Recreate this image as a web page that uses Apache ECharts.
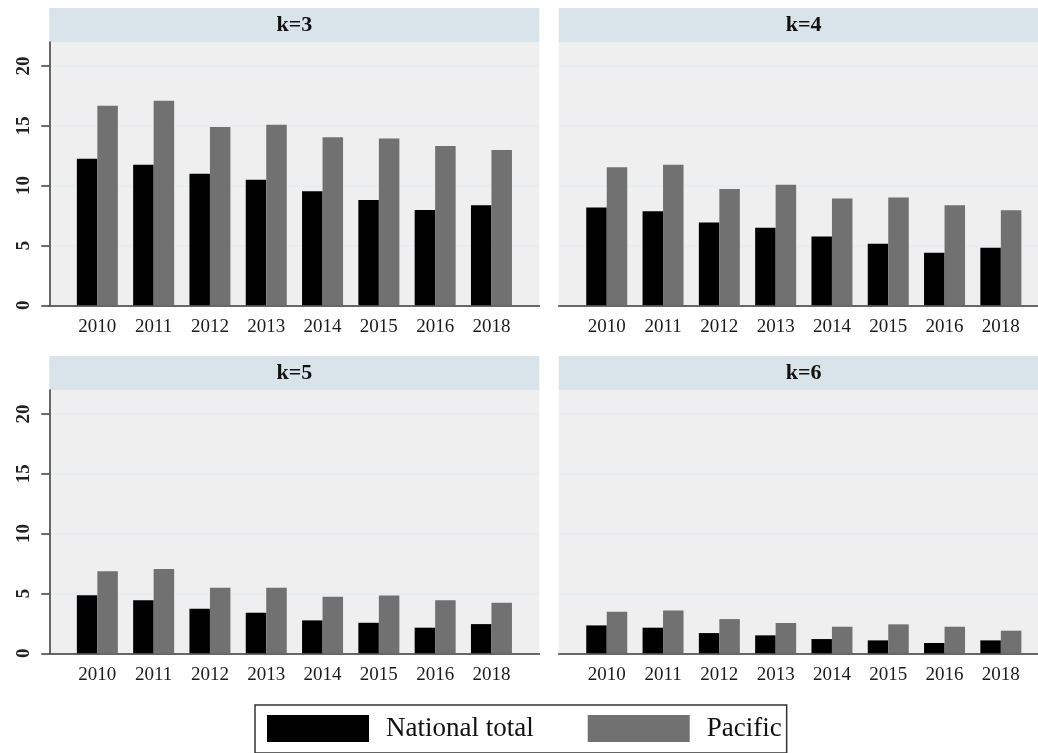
<!DOCTYPE html>
<html>
<head>
<meta charset="utf-8">
<style>
  html, body { margin: 0; padding: 0; background: #ffffff; }
  #chart { width: 1038px; height: 753px; }
</style>
<script src="https://cdn.jsdelivr.net/npm/echarts@6/dist/echarts.min.js"></script>
</head>
<body>
<div id="chart"></div>
<script>
// Survey years (2017 is absent from the series)
const years = ['2010', '2011', '2012', '2013', '2014', '2015', '2016', '2018'];

// Values per threshold k, national total vs. Pacific region
const nationalK3 = [12.25, 11.75, 11.0, 10.5, 9.53, 8.8, 7.97, 8.36];
const pacificK3  = [16.67, 17.1, 14.9, 15.08, 14.05, 13.94, 13.3, 12.97];
const nationalK4 = [8.17, 7.86, 6.92, 6.47, 5.75, 5.14, 4.39, 4.81];
const pacificK4  = [11.53, 11.75, 9.72, 10.08, 8.92, 9.0, 8.36, 7.94];
const nationalK5 = [4.86, 4.44, 3.72, 3.39, 2.75, 2.55, 2.14, 2.44];
const pacificK5  = [6.86, 7.05, 5.47, 5.47, 4.72, 4.83, 4.44, 4.22];
const nationalK6 = [2.33, 2.14, 1.69, 1.5, 1.19, 1.08, 0.86, 1.08];
const pacificK6  = [3.47, 3.58, 2.86, 2.53, 2.22, 2.42, 2.22, 1.89];

const panelTitles = ['k=3', 'k=4', 'k=5', 'k=6'];
const yTicks = [0, 5, 10, 15, 20];
const seriesNames = ['National total', 'Pacific'];

const panelData = [
  [nationalK3, pacificK3],
  [nationalK4, pacificK4],
  [nationalK5, pacificK5],
  [nationalK6, pacificK6]
];

const FONT = 'Liberation Serif';
const Y_MAX = 22;
const PANEL_BG = '#efefef';
const STRIP_BG = '#d9e3ea';
const AXIS_COLOR = '#3a3a3a';
const GRID_LINE = '#e6ecf0';
const BAR_COLORS = ['#000000', '#717171'];

// Panel geometry: [left, top] of each plotting region
const panelPos = [
  { left: 49.3, top: 42 },
  { left: 558.7, top: 42 },
  { left: 49.3, top: 390 },
  { left: 558.7, top: 390 }
];
const PANEL_W = 490, PANEL_H = 263.3, STRIP_H = 34;
const INNER_PAD = 19.9; // space between panel edge and first category band
const INNER_W = 450.4;

const grids = [], xAxes = [], yAxes = [], series = [], graphics = [];

panelPos.forEach((p, i) => {
  const isLeft = (i % 2 === 0);

  // Frame grid: background, y axis, gridlines and baseline
  grids.push({
    left: p.left, top: p.top, width: PANEL_W, height: PANEL_H,
    show: true, backgroundColor: PANEL_BG, borderWidth: 0, containLabel: false
  });
  xAxes.push({
    gridIndex: 2 * i, type: 'value', min: 0, max: 1,
    axisLine: { show: true, onZero: false, lineStyle: { color: AXIS_COLOR, width: 1.5 } },
    axisTick: { show: false }, axisLabel: { show: false }, splitLine: { show: false }
  });
  yAxes.push({
    gridIndex: 2 * i, type: 'value', min: 0, max: Y_MAX, interval: 5,
    axisLine: { show: isLeft, lineStyle: { color: AXIS_COLOR, width: 1.5 } },
    axisTick: {
      show: isLeft, length: 8, customValues: yTicks,
      lineStyle: { color: AXIS_COLOR, width: 1.5 }
    },
    axisLabel: {
      show: isLeft, rotate: 90, margin: 16, customValues: yTicks,
      fontFamily: FONT, fontSize: 19, fontWeight: 'bold', color: '#222',
      formatter: v => (yTicks.indexOf(v) >= 0 ? String(v) : '')
    },
    splitLine: { show: true, lineStyle: { color: GRID_LINE, width: 1.5 } }
  });

  // Bar grid: categories and bars
  grids.push({
    left: p.left + INNER_PAD, top: p.top, width: INNER_W, height: PANEL_H,
    show: false, containLabel: false
  });
  xAxes.push({
    gridIndex: 2 * i + 1, type: 'category', data: years,
    axisLine: { show: false }, axisTick: { show: false },
    axisLabel: { fontFamily: FONT, fontSize: 19, color: '#1a1a1a', margin: 12 }
  });
  yAxes.push({
    gridIndex: 2 * i + 1, type: 'value', min: 0, max: Y_MAX, show: false
  });

  panelData[i].forEach((vals, s) => {
    series.push({
      name: seriesNames[s], type: 'bar',
      xAxisIndex: 2 * i + 1, yAxisIndex: 2 * i + 1,
      data: vals, barWidth: 20.5, barGap: '0%',
      itemStyle: { color: BAR_COLORS[s] },
      emphasis: { disabled: true },
      animation: false
    });
  });

  // Strip header above the panel
  graphics.push({
    type: 'rect',
    shape: { x: p.left, y: p.top - STRIP_H, width: PANEL_W, height: STRIP_H },
    style: { fill: STRIP_BG }, silent: true
  });
  graphics.push({
    type: 'text',
    x: p.left + PANEL_W / 2, y: p.top - STRIP_H / 2,
    style: {
      text: panelTitles[i], fill: '#111', font: 'bold 22px "' + FONT + '"',
      textAlign: 'center', textVerticalAlign: 'middle'
    }, silent: true
  });
});

const chart = echarts.init(document.getElementById('chart'), null, { renderer: 'canvas' });
chart.setOption({
  animation: false,
  backgroundColor: '#ffffff',
  grid: grids,
  xAxis: xAxes,
  yAxis: yAxes,
  series: series,
  graphic: graphics,
  legend: {
    data: seriesNames,
    left: 255, top: 705,
    orient: 'horizontal',
    icon: 'rect',
    itemWidth: 102, itemHeight: 27, itemGap: 54,
    padding: [10, 5, 11, 12],
    borderColor: '#333', borderWidth: 1.5,
    selectedMode: false,
    textStyle: { fontFamily: FONT, fontSize: 27, color: '#111', padding: [0, 0, 0, 12] }
  }
});
</script>
</body>
</html>
